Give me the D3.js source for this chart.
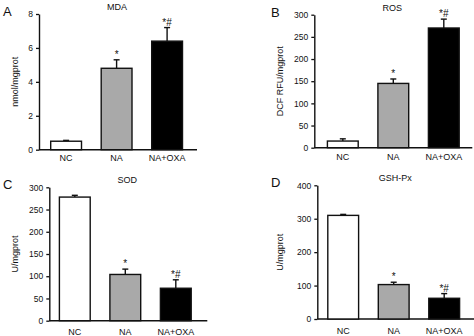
<!DOCTYPE html>
<html>
<head>
<meta charset="utf-8">
<script src="https://cdn.jsdelivr.net/npm/d3@7"></script>
<style>
  body { margin: 0; background: #fff; }
  text { font-family: "Liberation Sans", Arial, sans-serif; fill: #111; }
  .domain, .tick line { stroke: #111; }
</style>
</head>
<body>
<div id="chart"></div>
<script>
var groups = ["NC", "NA", "NA+OXA"];
var fills = ["#ffffff", "#a9a9a9", "#000000"];

var mdaMean = [0.5, 4.8, 6.4];
var mdaErr  = [0.05, 0.5, 0.8];
var rosMean = [15, 145, 270];
var rosErr  = [5, 10, 20];
var sodMean = [278, 104, 73];
var sodErr  = [4, 12, 19];
var gshMean = [310, 103, 62];
var gshErr  = [3, 7, 14];

var marks = ["", "*", "*#"];

var svg = d3.select("#chart").append("svg")
    .attr("width", 474)
    .attr("height", 336);

function panel(opt) {
    var y = d3.scaleLinear()
        .domain([0, opt.max])
        .range([opt.bottom, opt.top]);

    var x = d3.scaleBand()
        .domain(groups)
        .range([opt.left + opt.pad, opt.left + opt.pad + 152])
        .paddingInner(0.39)
        .paddingOuter(0.2);

    var g = svg.append("g");

    // y axis
    g.append("g")
        .attr("transform", "translate(" + opt.left + ",0)")
        .call(d3.axisLeft(y).tickValues(d3.range(0, opt.max + 1, opt.step)).tickSize(3).tickSizeOuter(0).tickPadding(3))
        .call(function(a) {
            a.selectAll("text").style("font-size", "8.5px");
            a.select(".domain").attr("stroke-width", 1.4);
            a.selectAll(".tick line").attr("stroke-width", 1.3);
        });

    // x baseline, no ticks
    g.append("line")
        .attr("x1", opt.left)
        .attr("x2", opt.left + 158)
        .attr("y1", opt.bottom)
        .attr("y2", opt.bottom)
        .attr("stroke", "#111")
        .attr("stroke-width", 1.4);

    g.selectAll(".xlab")
        .data(groups)
        .enter().append("text")
        .attr("x", function(d) { return x(d) + x.bandwidth() / 2; })
        .attr("y", opt.bottom + opt.labY)
        .attr("text-anchor", "middle")
        .style("font-size", "9px")
        .text(function(d) { return d; });

    var bars = groups.map(function(d, i) {
        return { name: d, mean: opt.mean[i], err: opt.err[i], fill: fills[i], mark: marks[i] };
    });

    // upper error bars with caps
    g.selectAll(".err")
        .data(bars)
        .enter().append("line")
        .attr("x1", function(d) { return x(d.name) + x.bandwidth() / 2; })
        .attr("x2", function(d) { return x(d.name) + x.bandwidth() / 2; })
        .attr("y1", function(d) { return y(d.mean); })
        .attr("y2", function(d) { return y(d.mean + d.err); })
        .attr("stroke", "#111")
        .attr("stroke-width", 1.4);

    g.selectAll(".cap")
        .data(bars)
        .enter().append("line")
        .attr("x1", function(d) { return x(d.name) + x.bandwidth() / 2 - 3; })
        .attr("x2", function(d) { return x(d.name) + x.bandwidth() / 2 + 3; })
        .attr("y1", function(d) { return y(d.mean + d.err); })
        .attr("y2", function(d) { return y(d.mean + d.err); })
        .attr("stroke", "#111")
        .attr("stroke-width", 1.4);

    g.selectAll(".bar")
        .data(bars)
        .enter().append("rect")
        .attr("x", function(d) { return x(d.name); })
        .attr("y", function(d) { return y(d.mean); })
        .attr("width", x.bandwidth())
        .attr("height", function(d) { return opt.bottom - y(d.mean); })
        .attr("fill", function(d) { return d.fill; })
        .attr("stroke", "#111")
        .attr("stroke-width", 1.4);

    g.selectAll(".sig")
        .data(bars)
        .enter().append("text")
        .attr("x", function(d) { return x(d.name) + x.bandwidth() / 2; })
        .attr("y", function(d) { return y(d.mean + d.err) - 2; })
        .attr("text-anchor", "middle")
        .style("font-size", "10px")
        .text(function(d) { return d.mark; });

    g.append("text")
        .attr("x", opt.left + 78)
        .attr("y", opt.top - 4)
        .attr("text-anchor", "middle")
        .style("font-size", "9px")
        .text(opt.title);

    g.append("text")
        .attr("transform", "translate(" + (opt.ylabX + 3) + "," + ((opt.top + opt.bottom) / 2) + ") rotate(-90)")
        .attr("text-anchor", "middle")
        .style("font-size", "9px")
        .text(opt.ylabel);

    g.append("text")
        .attr("x", opt.letterX)
        .attr("y", opt.top + 2)
        .style("font-size", "13px")
        .text(opt.letter);
}

panel({ letter: "A", letterX: 3, title: "MDA", ylabel: "nmol/mgprot", mean: mdaMean, err: mdaErr,
        max: 8, step: 2, left: 39, pad: 1.6, top: 14, bottom: 149.7, labY: 11.5, ylabX: 15 });
panel({ letter: "B", letterX: 271, title: "ROS", ylabel: "DCF RFU/mgprot", mean: rosMean, err: rosErr,
        max: 300, step: 50, left: 314.3, pad: 3, top: 14.7, bottom: 147.7, labY: 12.5, ylabX: 280 });
panel({ letter: "C", letterX: 3, title: "SOD", ylabel: "U/mgprot", mean: sodMean, err: sodErr,
        max: 300, step: 50, left: 49.3, pad: 0, top: 187.3, bottom: 320.7, labY: 14, ylabX: 15 });
panel({ letter: "D", letterX: 271, title: "GSH-Px", ylabel: "U/mgprot", mean: gshMean, err: gshErr,
        max: 400, step: 100, left: 317.3, pad: 0.4, top: 185.3, bottom: 319, labY: 15, ylabX: 280 });
</script>
</body>
</html>
